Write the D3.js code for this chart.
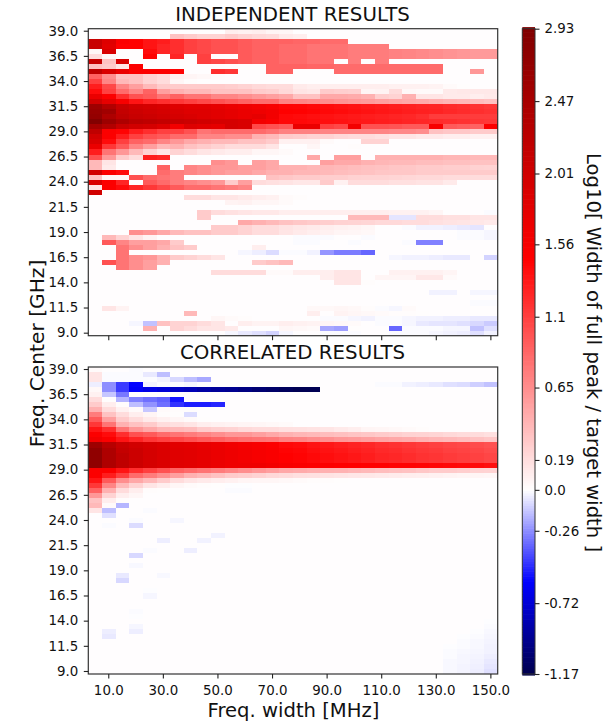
<!DOCTYPE html>
<html>
<head>
<meta charset="utf-8">
<script src="https://cdn.jsdelivr.net/npm/d3@7"></script>
<style>
  html, body { margin: 0; padding: 0; background: #fff; }
  svg { display: block; }
  text { font-family: "DejaVu Sans", sans-serif; fill: #111; }
  .axis text { font-size: 13.4px; }
  .axis path, .axis line { stroke: #222; stroke-width: 1.1px; }
</style>
</head>
<body>
<div id="chart"></div>
<script>
// freq. width of each column [MHz]
const freqWidths = [5,10,15,20,25,30,35,40,45,50,55,60,65,70,75,80,85,90,95,100,105,110,115,120,125,130,135,140,145,150];
// freq. center of each row [GHz], top to bottom
const freqCenters = [39,38.5,38,37.5,37,36.5,36,35.5,35,34.5,34,33.5,33,32.5,32,31.5,31,30.5,30,29.5,29,28.5,28,27.5,27,26.5,26,25.5,25,24.5,24,23.5,23,22.5,22,21.5,21,20.5,20,19.5,19,18.5,18,17.5,17,16.5,16,15.5,15,14.5,14,13.5,13,12.5,12,11.5,11,10.5,10,9.5,9];
const xTicks = [10,30,50,70,90,110,130,150];
const yTicks = [39,36.5,34,31.5,29,26.5,24,21.5,19,16.5,14,11.5,9];
const cbarTicks = [2.93,2.47,2.01,1.56,1.1,0.65,0.19,0,-0.26,-0.72,-1.17];
const cbarLabels = ["2.93","2.47","2.01","1.56","1.1","0.65","0.19","0.0","-0.26","-0.72","-1.17"];

// values read by eye, one row per freq. center; rows stop at their last coloured cell
const independentRows = [
  [0,0,0,0,0,0,0,0,0,0,.1,.08,.1,.06,.05],
  [0,0,0,0,0,0,.35,.3,.25,.25,.3,.25,.22,.2,.12,.1],
  [2.1,1.85,1.5,1.46,1.35,1.3,1.2,1.1,1.05,1,1,.95,.9,.9,.9,.88,.88,.85,.85],
  [2.1,1.8,1.46,1.46,1.35,1.25,1.2,1.1,1.05,1,1,.95,.9,.9,.85,.85,.8,.8,.8,.75,.75,.75],
  [.05,1.9,0,0,1.4,1.25,1.2,1.1,1.05,1,1,.95,.9,.9,.85,.85,.8,.8,.8,.75,.75,.75,.72,.7,.68,.65,.62,.6,.58,.58],
  [.2,.05,0,0,1.45,0,1.25,0,1.1,0,0,.95,.9,.9,.85,.85,.8,.8,.8,.75,.75,.75,.72,.7,.68,.65,.62,.6,.58,.58],
  [2.1,.35,1.9,0,0,0,0,0,1.1,1.05,1,.95,.9,.9,.85,.85,.8,.8,0,.75,0,.75],
  [.35,.3,.15,1.5,0,0,0,0,0,0,0,0,0,.9,.9,.9,.88,.88,.85,.85,.85,.85,.85,.85,.85,.85],
  [2.2,1.9,1.7,1.5,1.5,1.5,1.45,0,0,1.2,1.15,0,0,.9,.9,0,0,0,.85,.85,.85,.85,.85,.85,.85,.85,0,0,.6],
  [.9,.65,.35,.35,.25,.2,.08,.06,.04,.02],
  [1.1,.7,.4,.35,.25,.2,.05,.02],
  [1.3,1.05,.7,.55,.4,.3,.3,.3,.3,.3,.28,.25,.22,.2,.2,.12,.1,.1,.1,.1,.1,.1,.08,.08,.08,.07,.03,.01],
  [1.4,1.1,.85,.7,.9,.55,.45,.4,.4,.35,.35,.35,.3,.28,.22,.15,.13,.3,.28,.27,.06,.07,.2,.04,.03,.03,.12,.13,.13,.13],
  [1.7,1.5,1.2,1,.95,.8,.9,.8,.8,.7,.7,.65,.6,.55,.5,.35,.35,.5,.5,.48,.45,.28,.25,.45,.15,.15,.12,.12,.1,.12],
  [2,1.75,1.55,1.35,1.25,1.2,1.15,1.1,1.05,1,.95,.9,.85,.85,.72,.7,.68,.65,.62,.6,.58,.55,.52,.5,.48,.45,.42,.4,.38,.35],
  [2.6,2.35,2.1,2,1.95,1.9,1.85,1.8,1.8,1.75,1.7,1.65,1.6,1.55,1.45,1.44,1.42,1.4,1.38,1.36,1.34,1.32,1.3,1.28,1.26,1.25,1.22,1.2,1.18,1.15],
  [2.65,2.55,2.15,2.05,2,1.95,1.9,1.85,1.85,1.8,1.75,1.7,1.65,1.6,1.47,1.46,1.44,1.42,1.4,1.38,1.36,1.34,1.32,1.3,1.28,1.27,1.24,1.22,1.2,1.18],
  [2.7,2.4,2.2,2.1,2.05,2,1.95,1.9,1.85,1.8,1.75,1.7,1.75,1.6,1.42,1.4,1.38,1.36,1.34,1.32,1.3,1.28,1.26,1.24,1.2,1.12,1.12,1.12,1.12,1.12],
  [2.9,2.6,2.4,2.25,2.2,2.15,2.1,2.05,2,1.95,1.95,1.9,1.6,1.55,1.42,1.42,1.4,1.38,1.36,1.34,1.32,1.3,1.28,1.26,1.24,1.22,1.2,1.18,1.16,1.15],
  [2.5,2.35,2.1,2,1.95,1.85,1.6,1.85,1.8,1.75,1.95,1.9,1.05,1,.95,1.7,1.7,1.1,1.05,1.6,1,1,.98,.95,.95,1.55,.95,.92,.9,1.5],
  [2.2,1.5,1.45,1.3,1.2,1.1,1.1,1,.8,.85,.85,.85,.85,.8,.72,.72,.72,.7,.7,.7,.7,.7,.68,.68,.65,.35,.32,.32,.3,.3],
  [2,1.5,1.3,1.1,1,.95,.85,.85,.7,.7,.65,.65,.45,.4,.3,.28,.25,.25,.22,.2,.2,.18,.15,.15,.12,.12,.1,.1,.08,.08],
  [1.9,1.4,1.1,.9,.85,.7,.6,.5,.45,.4,.4,.35,.35,.3,.08,.08,.08,.03,0,0,.25,.25],
  [1.7,1.15,.95,.7,.55,.4,.45,.35,.3,.25,.2,.2,.2,.15,0,0,.05,0,0,.02],
  [1.3,.8,.6,.4,.25,.15,.25,.2,.15,.12,.1,.1,.05,.05,.03],
  [1,.6,.3,.2,1.3,1.25,0,0,0,0,0,0,0,0,0,0,.5,0,.55,.55,0,.45,.45,.45,.45,.45,.42,.42,.4,.4],
  [.4,.15,0,0,0,0,0,0,0,.65,.6,0,.55,.5,0,0,0,.55,.5,.5,.45,.42,.4,.4,.38,.38,.36,.36,.35,.35],
  [.4,.12,0,0,0,.9,0,.7,.65,.6,.6,.55,.55,.5,.45,.45,.42,.42,.4,.38,.36,.35,.33,.32,.3,.3,.28,.28,.26,.25],
  [2,1.5,1.4,0,0,.85,.75,.7,.65,.6,.55,.55,.5,.45,.45,.42,.42,.4,.38,.36,.35,.33,.32,.32,.3,.3,.3,.3,.3,.3],
  [.35,.05,.05,1,.85,.8,.75,0,0,0,0,0,0,.35,.32,.3,.3,.28,.28,.26,.25,.25,.24,.23,.22,.22,.2,.2,.2,.2],
  [1.9,1.5,1.25,0,.95,.85,.75,.7,.65,.6,.3,.55,.2,.18,.16,.14,.14,.3,.08,.2,.2,.2,.18,.18,.16,.16,.12],
  [.15,1.5,1.4,1.25,1.15,1.05,.95,.85,.85,.8,.75,.7],
  [2],
  [0,0,0,0,0,0,0,.2,.2,.15,.15,.12,.1,.08,.03,.02],
  [0,0,0,0,0,0,0,0,0,0,.07,.08,.05,.05,.03],
  [],
  [0,0,0,0,0,0,0,0,.3,.2,.17,.15,.13,.13,.1,.1,.1,.1,.1,.1,.1,.1,.08,.08,.08,.06,0,0,0,-.01],
  [0,0,0,0,0,0,0,0,.3,0,0,0,0,0,0,0,0,0,0,.4,.4,.4,-.06,-.06,.2,.2,.18,.18,.15,.15],
  [0,0,0,0,0,0,0,0,0,0,0,.5,.45,.4,.35,.32,.3,.28,.26,.25,.24,.22,.22,.2,.2,.18,.16,.15,.14,.12],
  [0,0,0,0,0,0,0,0,0,.3,.3,.25,.2,.2,.16,.14,.12,.1,.08,.07,.05,0,0,-.01,-.03,-.03,-.04,-.05,-.06],
  [0,0,0,.65,.6,.5,.4,.35,.35,.3,.3,.25,.2,.2,.15,.12,.1,.08,.06,.05,.04,0,0,0,0,0,0,-.01,-.01,-.02],
  [0,.4,.25,.15,.07,0,0,0,0,0,0,0,0,0,0,-.01,-.01,-.01,0,0,-.01,0,0,0,0,0,0,-.01,-.01,-.02],
  [0,.95,.7,.55,.55,.5,.3,0,0,0,0,0,0,0,0,-.01,-.01,0,0,-.01,0,0,0,-.01,-.29,-.29],
  [0,0,.8,.65,.55,.45,.35,.3,0,0,0,0,.1],
  [0,0,.8,0,0,0,0,0,0,0,0,-.02,-.04,-.08,-.01,-.01,-.03,-.24,-.3,-.3,-.35],
  [0,0,.8,.65,.6,.45,.3,.25,.2,.15,0,0,0,0,0,0,0,0,0,0,0,0,-.02,-.03,-.03,-.04,-.05,-.05,0,-.1],
  [0,1,.8,.65,.55,.45,0,0,0,0,0,0,.3,.35,.4],
  [0,0,.8,.65,.55],
  [0,0,0,0,0,0,0,0,0,.2,.2,.2,.2,.03,.03,.1,.1,.1,.15,.15,0,0,.08,.08,.08,.08,.06],
  [0,0,0,0,0,0,0,0,0,0,0,0,0,0,0,0,0,.1,.15,.15,0,.06,.06,.06,.13,.13,.03],
  [0,0,0,0,0,0,0,0,0,0,0,0,0,0,0,0,0,0,.15,.15,.02],
  [],
  [0,0,0,0,0,0,0,0,0,0,0,0,0,0,0,0,0,0,0,0,0,0,0,0,0,-.03,-.03,0,-.02,-.02],
  [],
  [0,0,0,0,0,0,0,0,0,0,0,0,0,0,0,0,0,0,0,0,0,0,0,0,0,0,0,0,-.01,-.01],
  [0,.15,.07,0,0,0,0,0,0,0,0,0,0,0,0,0,.04,.04,.05,.04,.02,-.01,-.02,.03],
  [0,0,0,0,0,0,0,.4,0,0,0,0,0,0,0,0,.1,0,.07,.05,.04,.03,.02,.02,.01],
  [0,0,0,0,0,0,0,0,0,.05,.03,.02,0,0,0,0,0,-.01,-.01,-.02,-.03,-.01,-.01,-.02,-.03,-.03,-.04,-.04,-.05,-.05],
  [0,0,0,-.02,-.14,.35,.25,.25,.2,.15,0,.1,.07,.07,.1,.08,.07,.05,.04,.03,0,-.01,-.01,-.02,-.05,-.06,-.06,-.07,-.09,-.12],
  [0,0,0,0,.45,0,.25,.2,.15,.15,.12,0,0,0,.05,.04,.03,-.2,-.22,.01,0,0,-.35,-.01,-.01,-.01,-.02,-.02,-.14,-.07],
  [0,0,0,0,0,0,0,0,0,0,-.02,-.05,-.07,-.1,-.02,0,0,-.01,-.01,-.01,0,0,-.01,-.01,-.01,-.02,-.03,-.04,-.07,-.03]
];

const correlatedRows = [
  [.03,0,0,-.01],
  [.15,-.01,-.01,-.01,-.05,-.15],
  [.15,-.01,-.01,-.01,-.01,-.03,-.09,-.15,-.2],
  [-.04,-.26,-.45,-.58,-.03,-.01,-.01,-.02,0,0,0,0,0,0,0,0,0,0,0,0,0,-.01,-.01,-.03,-.04,-.05,-.07,-.08,-.11,-.14],
  [.04,-.26,-.45,-.6,-.67,-.72,-.78,-.82,-.88,-.92,-.95,-1,-1.05,-1.08,-1.12,-1.15,-1.15],
  [.08,-.13,-.31],
  [.2,.01,-.17,-.29,-.33,-.36,-.54],
  [.3,.1,.02,-.15,-.25,-.33,-.47,-.52,-.52,-.5],
  [.45,.2,.08,.03,-.13,.03,.02,.02],
  [.75,.35,.2,.1,.06,.02,.01,-.08],
  [.95,.55,.3,.2,.12,.08,.05,.03,.01],
  [1.15,.8,.45,.35,.3,.2,.18,.15,.1,.08,.07,.06,.05,.04,.03],
  [1.35,1.2,.8,.6,.5,.42,.4,.38,.3,.27,.25,.22,.2,.2,.18,.17,.16,.15,.12,.1,.06,.05,.04,.03,.02],
  [1.5,1.4,1.2,1,.95,.85,.8,.75,.7,.65,.6,.6,.55,.5,.45,.42,.4,.38,.36,.34,.32,.3,.28,.26,.25,.24,.22,.2,.2,.18],
  [1.6,1.5,1.35,1.25,1.15,1.1,1.05,1,.95,.9,.85,.82,.8,.78,.72,.7,.66,.64,.6,.58,.55,.52,.5,.48,.45,.42,.4,.38,.35,.32],
  [2.6,2.3,2.1,2,1.93,1.87,1.8,1.78,1.73,1.68,1.63,1.58,1.54,1.5,1.42,1.4,1.36,1.33,1.3,1.27,1.24,1.2,1.18,1.15,1.12,1.1,1.07,1.05,1.03,1],
  [2.75,2.4,2.15,2.05,1.95,1.88,1.82,1.8,1.75,1.7,1.65,1.6,1.56,1.52,1.45,1.43,1.39,1.36,1.33,1.3,1.27,1.23,1.21,1.18,1.15,1.13,1.1,1.08,1.06,1.03],
  [2.75,2.4,2.2,2.05,1.95,1.88,1.82,1.8,1.75,1.7,1.65,1.6,1.56,1.52,1.47,1.45,1.42,1.39,1.36,1.33,1.3,1.26,1.24,1.21,1.18,1.16,1.13,1.11,1.09,1.06],
  [2.75,2.4,2.2,2.05,1.95,1.88,1.82,1.8,1.75,1.7,1.65,1.6,1.56,1.52,1.47,1.45,1.42,1.39,1.36,1.33,1.3,1.26,1.24,1.21,1.18,1.16,1.13,1.11,1.09,1.06],
  [2.75,2.4,2.2,2.05,1.95,1.88,1.82,1.8,1.75,1.7,1.65,1.65,1.65,1.6,1.55,1.52,1.5,1.5,1.48,1.47,1.46,1.46,1.45,1.45,1.44,1.43,1.42,1.41,1.4,1.38],
  [1.5,1.5,1.35,1.2,1.1,1,.9,.85,.8,.75,.7,.65,.6,.55,.5,.48,.46,.45,.44,.42,.4,.38,.36,.35,.32,.3,.3,.28,.26,.25],
  [1.5,1.3,1.1,.85,.75,.65,.55,.45,.4,.35,.3,.28,.25,.22,.2,.18,.17,.16,.15,.14,.13,.12,.11,.1,.09,.08,.07,.06,.06,.05],
  [1.35,.95,.65,.5,.4,.3,.2,.15,.12,.1,.08,.06,.05,.05,.04,.03,.02,.02,.01],
  [1.15,.7,.4,.25,.15,.1,.05,.03,.02,.01,-.005,-.005],
  [.9,.45,.2,.1,.02,.01,0,0,0,0,-.01,-.01],
  [.6,.25,.1,.05],
  [.35,.1,.02],
  [.4,.03,-.17],
  [.15,-.15,0,0,-.01],
  [0,-.07],
  [0,0,0,-.01,0,0,-.02],
  [0,-.01,0,-.08],
  [],
  [0,0,0,0,0,0,0,0,0,-.03],
  [0,0,0,0,0,-.04,0,0,-.03],
  [],
  [0,0,0,0,-.01,0,0,-.04],
  [0,0,0,-.09],
  [],
  [0,0,0,-.015],
  [],
  [0,0,-.05,0,0,-.015],
  [0,0,-.09],
  [],
  [0,0,0,0,-.005],
  [0,0,0,0,-.02],
  [],[],
  [0,0,0,-.01],
  [0,0,0,-.005],
  [0,0,0,0,0,0,0,0,0,0,0,0,0,0,0,0,0,0,0,0,0,0,0,0,0,0,0,0,0,-.005],
  [0,0,0,-.02,0,0,0,0,0,0,0,0,0,0,0,0,0,0,0,0,0,0,0,0,0,0,0,0,0,-.01],
  [0,-.04,0,-.04,0,0,0,0,0,0,0,0,0,0,0,0,0,0,0,0,0,0,0,0,0,0,0,0,-.005,-.015],
  [0,-.05,0,0,0,0,0,0,0,0,0,0,0,0,0,0,0,0,0,0,0,0,0,0,0,0,0,-.005,-.01,-.02],
  [0,0,0,0,0,0,0,0,0,0,0,0,0,0,0,0,0,0,0,0,0,0,0,0,0,0,0,-.01,-.015,-.025],
  [0,0,0,0,0,0,0,0,0,0,0,0,0,0,0,0,0,0,0,0,0,0,0,0,0,0,-.005,-.01,-.015,-.03],
  [0,0,0,0,0,0,0,0,0,0,0,0,0,0,0,0,0,0,0,0,0,0,0,0,0,0,-.01,-.015,-.02,-.03],
  [0,0,0,0,0,0,0,0,0,0,0,0,0,0,0,0,0,0,0,0,0,0,0,0,0,0,-.01,-.02,-.025,-.04],
  [0,0,0,0,0,0,0,0,0,0,0,0,0,0,0,0,0,0,0,0,0,0,0,0,0,0,-.015,-.02,-.03,-.05],
  [0,0,0,0,0,0,0,0,0,0,0,0,0,0,0,0,0,0,0,0,0,0,0,0,0,0,-.015,-.025,-.035,-.06],
  [0,0,0,0,0,0,0,0,0,0,0,0,0,0,0,0,0,0,0,0,0,0,0,0,0,0,-.015,-.025,-.04,-.07]
];

const W = 615, H = 728;
const left = 88.3, right = 497.7;
const panelH = 307;

const svg = d3.select("#chart").append("svg").attr("width", W).attr("height", H);

// seismic map, split at 0 so white lands on zero
const color = d3.scaleLinear()
  .domain([-1.17, -0.585, 0, 1.465, 2.93])
  .range(["#00004d", "#0000ff", "#ffffff", "#ff0000", "#800000"])
  .clamp(true);

const x = d3.scaleBand().domain(freqWidths).range([left, right]);

function drawPanel(rows, top, title, showXLabels) {
  const y = d3.scaleBand().domain(freqCenters).range([top, top + panelH]);
  const g = svg.append("g");

  g.append("rect")
    .attr("x", left).attr("y", top)
    .attr("width", right - left).attr("height", panelH)
    .attr("fill", "#fffdfe");

  const cells = rows.flatMap((row, i) => row.map((v, j) => ({ f: freqCenters[i], w: freqWidths[j], v })));
  g.append("g").selectAll("rect")
    .data(cells.filter(d => d.v !== 0))
    .join("rect")
    .attr("x", d => x(d.w))
    .attr("y", d => y(d.f))
    .attr("width", x.bandwidth())
    .attr("height", y.bandwidth())
    .attr("fill", d => color(d.v))
    .attr("shape-rendering", "crispEdges");

  g.append("rect")
    .attr("x", left).attr("y", top)
    .attr("width", right - left).attr("height", panelH)
    .attr("fill", "none").attr("stroke", "#333").attr("stroke-width", 1.2);

  g.append("g")
    .attr("class", "axis")
    .attr("transform", `translate(${left},0)`)
    .call(d3.axisLeft(y).tickValues(yTicks).tickFormat(d3.format(".1f")).tickSize(4.5).tickPadding(5.5))
    .select(".domain").remove();

  g.append("g")
    .attr("class", "axis")
    .attr("transform", `translate(0,${top + panelH})`)
    .call(d3.axisBottom(x).tickValues(xTicks).tickFormat(showXLabels ? d3.format(".1f") : "").tickSize(4.5).tickPadding(7))
    .select(".domain").remove();

  g.append("text")
    .attr("x", (left + right) / 2 - 0.5)
    .attr("y", top - 8)
    .attr("text-anchor", "middle")
    .style("font-size", "19.8px")
    .text(title);
}

drawPanel(independentRows, 28.7, "INDEPENDENT RESULTS", false);
drawPanel(correlatedRows, 367, "CORRELATED RESULTS", true);

svg.append("text")
  .attr("transform", "translate(44,353.5) rotate(-90)")
  .attr("text-anchor", "middle")
  .style("font-size", "20.2px")
  .text("Freq. Center [GHz]");

svg.append("text")
  .attr("x", 293.5)
  .attr("y", 717)
  .attr("text-anchor", "middle")
  .style("font-size", "19.6px")
  .text("Freq. width [MHz]");

// colorbar
const cbarLeft = 522.3, cbarRight = 535;
const cy = d3.scaleLinear().domain([-1.17, 2.93]).range([674, 28.7]);
const cbar = svg.append("g").attr("class", "cbar");
const cbarSteps = d3.range(0, 256).map(i => -1.17 + (i / 255) * 4.1);
cbar.append("g").selectAll("rect")
  .data(cbarSteps)
  .join("rect")
  .attr("x", cbarLeft)
  .attr("width", cbarRight - cbarLeft)
  .attr("y", d => cy(d) - 1.6)
  .attr("height", 3.2)
  .attr("fill", d => color(d));
cbar.append("rect")
  .attr("x", cbarLeft).attr("y", 28.7)
  .attr("width", cbarRight - cbarLeft).attr("height", 674 - 28.7)
  .attr("fill", "none").attr("stroke", "#333").attr("stroke-width", 1);
cbar.append("g")
  .attr("class", "axis")
  .attr("transform", `translate(${cbarRight},0)`)
  .call(d3.axisRight(cy).tickValues(cbarTicks).tickFormat((d, i) => cbarLabels[i]).tickSize(4.5).tickPadding(5))
  .select(".domain").remove();

svg.append("text")
  .attr("transform", "translate(587,352.5) rotate(90)")
  .attr("text-anchor", "middle")
  .style("font-size", "19.6px")
  .text("Log10[ Width of full peak / target width ]");
</script>
</body>
</html>
